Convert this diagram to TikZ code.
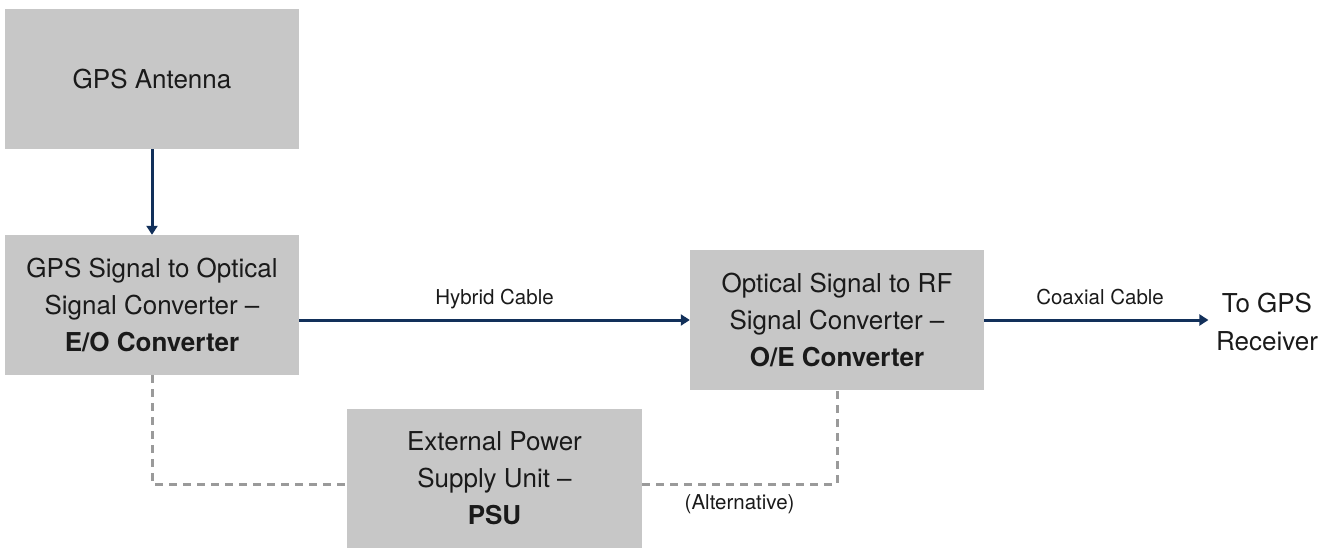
\documentclass[tikz,border=0pt]{standalone}
\usepackage{fontspec}
\setmainfont{TeX Gyre Heros}
\usetikzlibrary{arrows.meta}
\definecolor{boxgray}{HTML}{C7C7C7}
\definecolor{navy}{HTML}{12305A}
\definecolor{dashgray}{HTML}{9A9A9A}
\definecolor{txt}{HTML}{1A1A1A}
\tikzset{
  block/.style={fill=boxgray, draw=none, minimum width=294pt, minimum height=140pt,
    inner sep=0pt, align=center, text=txt, font=\fontsize{26}{37}\selectfont},
  flow/.style={draw=navy, line width=3pt, -{Triangle[length=9pt,width=11pt]}},
  power/.style={draw=dashgray, line width=3pt, dash pattern=on 8pt off 6pt},
  lbl/.style={text=txt, font=\fontsize{20.5}{24}\selectfont, inner sep=0pt}
}
\begin{document}
\begin{tikzpicture}[x=1pt,y=-1pt]
\useasboundingbox (0,0) rectangle (1334,548);
\node[block] (ant) at (152,79) {GPS Antenna};
\node[block] (eo) at (152,305) {GPS Signal to Optical\\Signal Converter --\\\textbf{E/O Converter}};
\node[block] (oe) at (837,320) {Optical Signal to RF\\Signal Converter --\\\textbf{O/E Converter}};
\node[block, minimum height=139pt, minimum width=295pt] (psu) at (494.5,478.5) {External Power\\Supply Unit --\\\textbf{PSU}};
\node[align=center, text=txt, inner sep=0pt, font=\fontsize{26}{38}\selectfont] (rx) at (1267,321.6) {To GPS\\Receiver};
\draw[flow] (ant.south) -- (eo.north);
\draw[flow] (eo.east |- oe.west) -- node[lbl, midway, anchor=base, yshift=15pt] {Hybrid Cable} (oe.west);
\draw[flow, shorten >=7.5pt] (oe.east) -- node[lbl, midway, anchor=base, yshift=15pt] {Coaxial Cable} (oe.east -| rx.west);
\coordinate (pl) at ([yshift=-5.5pt]psu.west);
\coordinate (pr) at ([yshift=-5.5pt]psu.east);
\draw[power] (eo.south) |- (pl);
\draw[power] (pr) -- node[lbl, midway, below=9pt] {(Alternative)} (pr -| oe.south) -- (oe.south);
\end{tikzpicture}
\end{document}
